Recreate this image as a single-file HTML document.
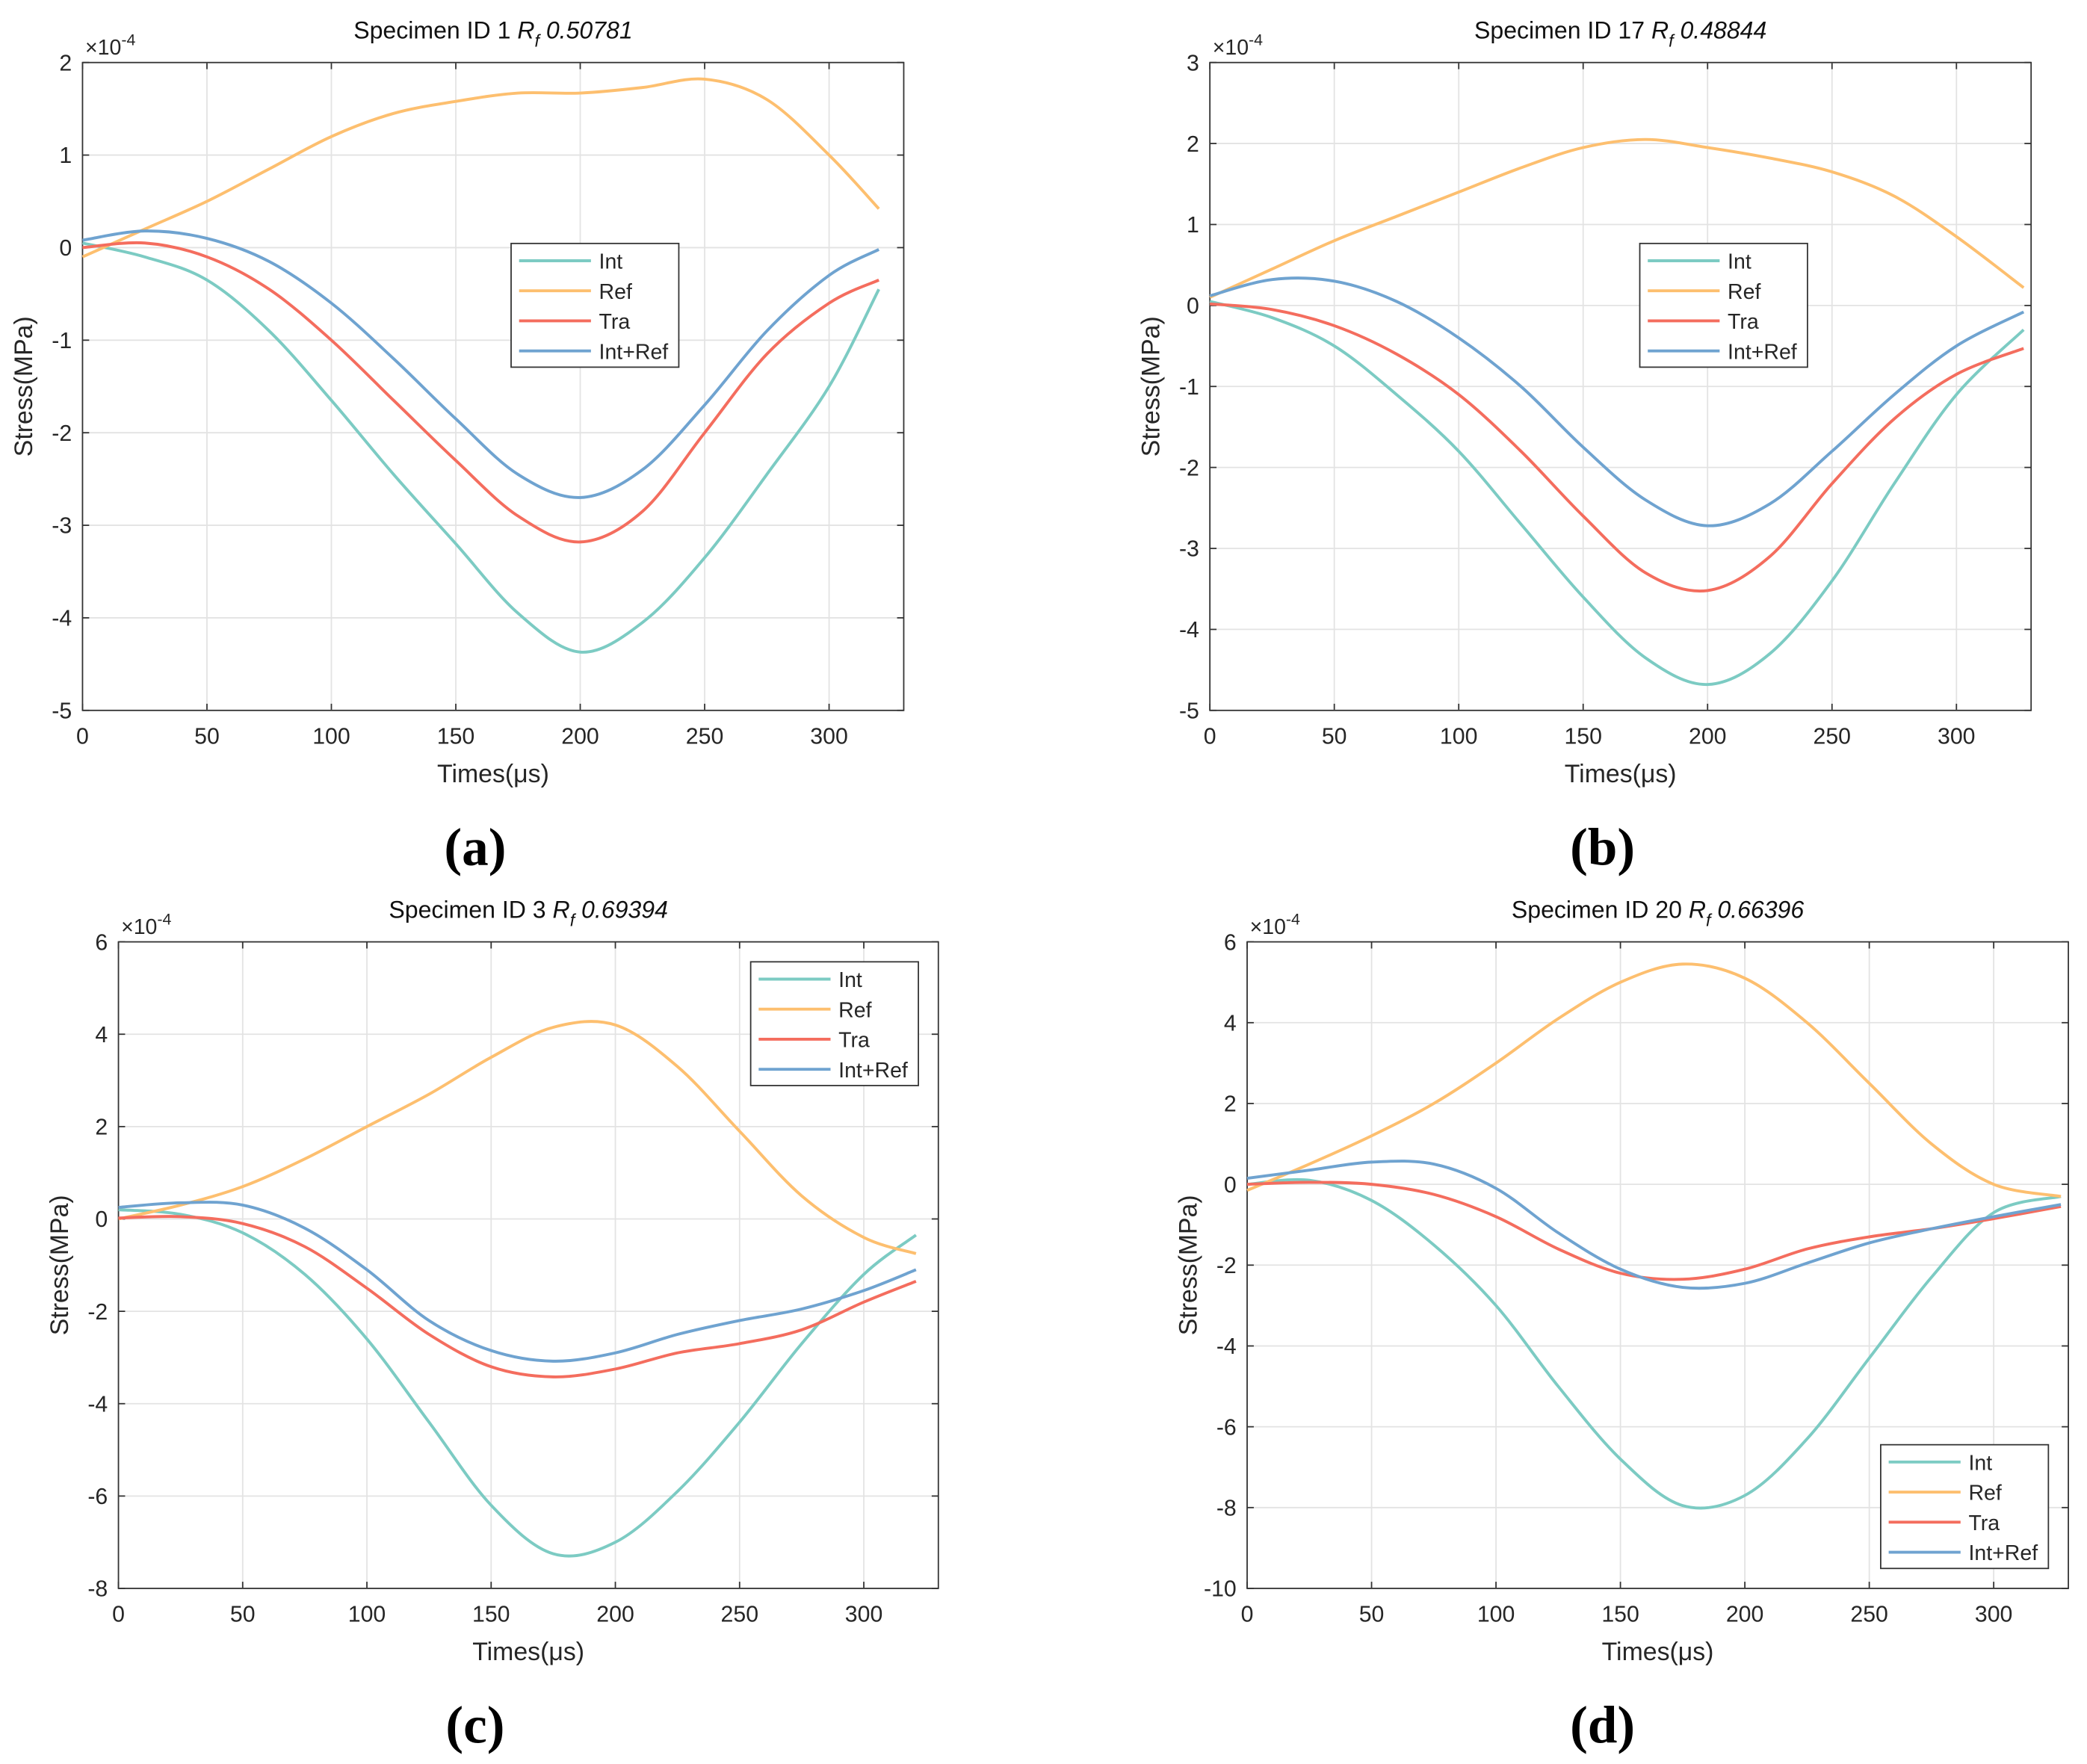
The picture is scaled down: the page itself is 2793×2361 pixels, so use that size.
<!DOCTYPE html>
<html><head><meta charset="utf-8"><style>
html,body{margin:0;padding:0;background:#fff;}
svg{display:block;font-family:"Liberation Sans",sans-serif;}
</style></head><body>
<svg id="fig" width="2793" height="2361" viewBox="0 0 1568 1326" preserveAspectRatio="none" xmlns="http://www.w3.org/2000/svg">
<rect width="1568" height="1326" fill="#fff"/>
</svg>
<script>
const seriesNames = ["Int","Ref","Tra","Int+Ref"];
const seriesColors = ["#7ccbc3","#fdbf6f","#f46d5e","#6fa3d0"];
const xA = [0,25,50,75,100,125,150,175,200,225,250,275,300,320];
const intA = [0.05,-0.1,-0.35,-0.9,-1.65,-2.45,-3.2,-3.95,-4.37,-4.05,-3.35,-2.45,-1.5,-0.45];
const refA = [-0.1,0.2,0.5,0.85,1.2,1.45,1.58,1.67,1.67,1.73,1.82,1.6,1.0,0.42];
const traA = [0.0,0.05,-0.1,-0.45,-1.0,-1.65,-2.3,-2.9,-3.18,-2.85,-2.0,-1.15,-0.6,-0.35];
const irA = [0.08,0.18,0.1,-0.15,-0.6,-1.2,-1.85,-2.45,-2.7,-2.4,-1.7,-0.9,-0.3,-0.02];
const xB = [0,25,50,75,100,125,150,175,200,225,250,275,300,327];
const intB = [0.05,-0.15,-0.5,-1.1,-1.8,-2.7,-3.6,-4.35,-4.68,-4.3,-3.4,-2.2,-1.1,-0.3];
const refB = [0.1,0.45,0.8,1.1,1.4,1.7,1.95,2.05,1.95,1.82,1.65,1.35,0.85,0.22];
const traB = [0.02,-0.05,-0.25,-0.6,-1.1,-1.8,-2.6,-3.3,-3.52,-3.1,-2.2,-1.4,-0.85,-0.53];
const irB = [0.12,0.32,0.3,0.05,-0.4,-1.0,-1.75,-2.4,-2.72,-2.45,-1.8,-1.1,-0.5,-0.08];
const xC = [0,25,50,75,100,125,150,175,200,225,250,275,300,321];
const intC = [0.2,0.1,-0.3,-1.2,-2.6,-4.4,-6.2,-7.25,-7.0,-5.9,-4.4,-2.7,-1.2,-0.35];
const refC = [0.0,0.3,0.7,1.3,2.0,2.7,3.5,4.15,4.2,3.3,1.9,0.5,-0.4,-0.75];
const traC = [0.02,0.05,-0.1,-0.6,-1.5,-2.5,-3.2,-3.42,-3.25,-2.9,-2.7,-2.4,-1.8,-1.35];
const irC = [0.25,0.35,0.3,-0.2,-1.1,-2.2,-2.85,-3.08,-2.9,-2.5,-2.2,-1.95,-1.55,-1.1];
const xD = [0,25,50,75,100,125,150,175,200,225,250,275,300,327];
const intD = [0.0,0.1,-0.4,-1.5,-3.0,-5.0,-6.8,-7.95,-7.7,-6.3,-4.3,-2.3,-0.7,-0.3];
const refD = [-0.15,0.5,1.2,2.0,3.0,4.1,5.0,5.45,5.1,4.0,2.5,1.0,0.0,-0.3];
const traD = [0.0,0.05,0.0,-0.25,-0.8,-1.6,-2.2,-2.35,-2.1,-1.6,-1.3,-1.1,-0.85,-0.55];
const irD = [0.15,0.35,0.55,0.5,-0.1,-1.2,-2.1,-2.55,-2.45,-1.95,-1.45,-1.1,-0.8,-0.5];
const xTicks = [0,50,100,150,200,250,300];
const yTicksA = [2,1,0,-1,-2,-3,-4,-5];
const yTicksB = [3,2,1,0,-1,-2,-3,-4,-5];
const yTicksC = [6,4,2,0,-2,-4,-6,-8];
const yTicksD = [6,4,2,0,-2,-4,-6,-8,-10];

const NS="http://www.w3.org/2000/svg";
const svg=document.getElementById('fig');
function mk(tag,attrs,parent,text){const e=document.createElementNS(NS,tag);for(const k in attrs)e.setAttribute(k,attrs[k]);if(text!==undefined)e.textContent=text;(parent||svg).appendChild(e);return e;}
function smooth(pts){let d=`M${pts[0][0]},${pts[0][1]}`;for(let i=0;i<pts.length-1;i++){const p0=pts[Math.max(0,i-1)],p1=pts[i],p2=pts[i+1],p3=pts[Math.min(pts.length-1,i+2)];const c1=[p1[0]+(p2[0]-p0[0])/6,p1[1]+(p2[1]-p0[1])/6],c2=[p2[0]-(p3[0]-p1[0])/6,p2[1]-(p3[1]-p1[1])/6];d+=` C${c1[0]},${c1[1]} ${c2[0]},${c2[1]} ${p2[0]},${p2[1]}`;}return d;}

function panel(cfg){
 const g=mk('g',{});
 
 
 const {L,R,T,B,ymax,ymin}=cfg;
 const xs=v=>L+v/330*(R-L), ys=v=>T+(ymax-v)/(ymax-ymin)*(B-T);
 mk('rect',{x:L,y:T,width:R-L,height:B-T,fill:'#fff'},g);
 xTicks.forEach(t=>{mk('line',{x1:xs(t),x2:xs(t),y1:T,y2:B,stroke:'#e3e3e3','stroke-width':1},g);
  mk('line',{x1:xs(t),x2:xs(t),y1:B,y2:B-5,stroke:'#333'},g);
  mk('line',{x1:xs(t),x2:xs(t),y1:T,y2:T+5,stroke:'#333'},g);
  const tl=mk('text',{x:xs(t),y:B+25,'font-size':17,'text-anchor':'middle',fill:'#262626'},g,String(t));
  });
 cfg.yTicks.forEach(t=>{mk('line',{x1:L,x2:R,y1:ys(t),y2:ys(t),stroke:'#e3e3e3','stroke-width':1},g);
  mk('line',{x1:L,x2:L+5,y1:ys(t),y2:ys(t),stroke:'#333'},g);
  mk('line',{x1:R,x2:R-5,y1:ys(t),y2:ys(t),stroke:'#333'},g);
  const tl=mk('text',{x:L-8,y:ys(t)+6,'font-size':17,'text-anchor':'end',fill:'#262626'},g,String(t));
  });
 mk('rect',{x:L,y:T,width:R-L,height:B-T,fill:'none',stroke:'#333','stroke-width':1},g);
 const ex=mk('text',{x:L+2,y:T-6,'font-size':16,fill:'#262626'},g);
 ex.innerHTML='×10<tspan dy="-7" font-size="12">-4</tspan>';
 cfg.series.forEach((vals,i)=>{const pts=vals.map((v,j)=>[xs(cfg.x[j]),ys(v)]);
  const p=mk('path',{d:smooth(pts),fill:'none',stroke:seriesColors[i],'stroke-width':2.2},g);
  
  });
 const lg=mk('g',{},g);
 mk('rect',{x:cfg.lx,y:cfg.ly,width:126,height:93,fill:'#fff',stroke:'#333'},lg);
 seriesNames.forEach((n,i)=>{const yy=cfg.ly+13+i*22.6;
  mk('line',{x1:cfg.lx+6,x2:cfg.lx+60,y1:yy,y2:yy,stroke:seriesColors[i],'stroke-width':2.2},lg);
  const lt=mk('text',{x:cfg.lx+66,y:yy+6,'font-size':16,fill:'#262626'},lg,n);
  });
 const ti=mk('text',{x:(L+R)/2,y:T-18,'font-size':18,'text-anchor':'middle',fill:'#111'},g);
 
 ti.innerHTML=`Specimen ID ${cfg.id} <tspan font-style="italic">R</tspan><tspan font-style="italic" font-size="13" dy="6">f</tspan><tspan dy="-6" font-style="italic"> ${cfg.rf}</tspan>`;
 const xl=mk('text',{x:(L+R)/2,y:B+54,'font-size':19,'text-anchor':'middle',fill:'#262626'},g,'Times(μs)');
 
 const yl=mk('text',{x:0,y:0,'font-size':19,'text-anchor':'middle',fill:'#262626',transform:`translate(${L-38},${(T+B)/2}) rotate(-90)`},g,'Stress(MPa)');
 
 const pl=mk('text',{x:cfg.plx,y:B+116,'font-size':40,'font-weight':'bold','text-anchor':'middle','font-family':'Liberation Serif, serif',fill:'#000'},g,cfg.label);
 
}
panel({name:'panel-a',L:62,R:679,T:47,B:534,ymax:2,ymin:-5,yTicks:yTicksA,x:xA,series:[intA,refA,traA,irA],lx:384,ly:183,id:1,rf:'0.50781',label:'(a)',plx:357});
panel({name:'panel-b',L:909,R:1526,T:47,B:534,ymax:3,ymin:-5,yTicks:yTicksB,x:xB,series:[intB,refB,traB,irB],lx:1232,ly:183,id:17,rf:'0.48844',label:'(b)',plx:1204});
panel({name:'panel-c',L:89,R:705,T:708,B:1194,ymax:6,ymin:-8,yTicks:yTicksC,x:xC,series:[intC,refC,traC,irC],lx:564,ly:723,id:3,rf:'0.69394',label:'(c)',plx:357});
panel({name:'panel-d',L:937,R:1554,T:708,B:1194,ymax:6,ymin:-10,yTicks:yTicksD,x:xD,series:[intD,refD,traD,irD],lx:1413,ly:1086,id:20,rf:'0.66396',label:'(d)',plx:1204});
</script>
</body></html>
